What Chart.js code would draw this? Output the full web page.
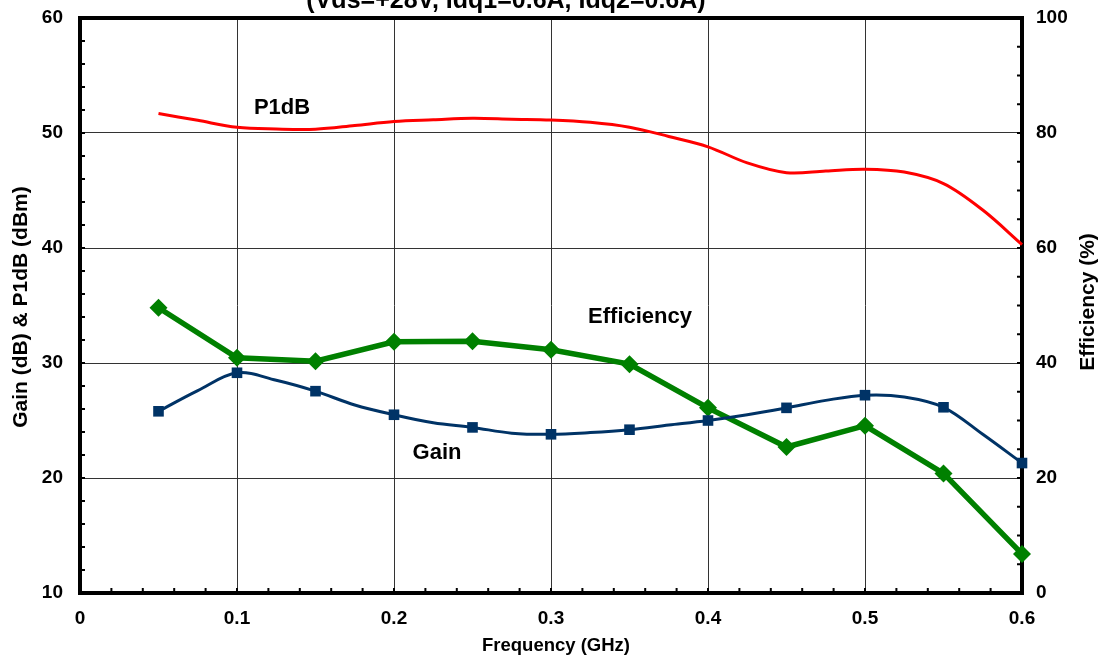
<!DOCTYPE html>
<html>
<head>
<meta charset="utf-8">
<script src="https://cdn.jsdelivr.net/npm/chart.js@4.4.1/dist/chart.umd.min.js"></script>
<style>
  html, body { margin: 0; padding: 0; background: #fff; }
  #wrap { width: 1105px; height: 658px; }
</style>
</head>
<body>
<div id="wrap"><canvas id="chart" width="1105" height="658"></canvas></div>
<script>
// frequency sweep, GHz
const gainFreq = [0.05, 0.075, 0.1, 0.125, 0.15, 0.175, 0.2, 0.225, 0.25, 0.275, 0.3, 0.325,
  0.35, 0.375, 0.4, 0.425, 0.45, 0.475, 0.5, 0.525, 0.55, 0.575, 0.6];
const gainDb = [25.8, 27.6, 29.15, 28.5, 27.55, 26.35, 25.5, 24.8, 24.4, 23.9, 23.8, 23.95,
  24.2, 24.6, 25.0, 25.5, 26.1, 26.75, 27.2, 27.05, 26.15, 23.8, 21.3];

const p1dbFreq = gainFreq;
const p1dbDbm = [51.7, 51.1, 50.5, 50.35, 50.33, 50.65, 51.0, 51.15, 51.28, 51.2, 51.13, 50.93,
  50.5, 49.7, 48.8, 47.4, 46.55, 46.7, 46.85, 46.6, 45.6, 43.3, 40.3];

const effFreq = [0.05, 0.1, 0.15, 0.2, 0.25, 0.3, 0.35, 0.4, 0.45, 0.5, 0.55, 0.6];
const effPct = [49.6, 40.9, 40.3, 43.7, 43.8, 42.3, 39.8, 32.2, 25.4, 29.1, 20.8, 6.8];

// gain markers only on the 50 MHz steps
const gainMarkerFreq = effFreq;

const xTickLabels = ["0", "0.1", "0.2", "0.3", "0.4", "0.5", "0.6"];

const chartTitle = "(Vds=+28V, Idq1=0.6A, Idq2=0.6A)";
const xTitle = "Frequency (GHz)";
const yLeftTitle = "Gain (dB) & P1dB (dBm)";
const yRightTitle = "Efficiency (%)";

// in-plot series labels (frequency, left-axis value)
const seriesLabels = [
  { text: "P1dB", f: 0.1287, v: 52.15 },
  { text: "Efficiency", f: 0.3567, v: 34.0 },
  { text: "Gain", f: 0.2274, v: 22.15 },
];

const FONT = "'Liberation Sans', Arial, sans-serif";

function toXY(xs, ys) {
  return xs.map((x, i) => ({ x: x, y: ys[i] }));
}

function noPad(s) {
  s.paddingTop = 0;
  s.paddingBottom = 0;
  s.paddingLeft = 0;
  s.paddingRight = 0;
}

const frame = {
  id: "frame",
  beforeDatasetsDraw(chart) {
    const { ctx, chartArea: a, scales } = chart;
    ctx.save();
    ctx.strokeStyle = "#000";
    ctx.lineWidth = 2;
    ctx.beginPath();
    // minor ticks, pointing inward
    for (let i = 1; i < 30; i++) {
      const px = scales.x.getPixelForValue(i * 0.02);
      ctx.moveTo(px, a.bottom);
      ctx.lineTo(px, a.bottom - 5);
    }
    for (let v = 12; v < 60; v += 2) {
      const py = scales.y.getPixelForValue(v);
      ctx.moveTo(a.left, py);
      ctx.lineTo(a.left + 5, py);
    }
    for (let v = 5; v < 100; v += 5) {
      const py = scales.y2.getPixelForValue(v);
      ctx.moveTo(a.right, py);
      ctx.lineTo(a.right - 5, py);
    }
    ctx.stroke();
    ctx.lineWidth = 4;
    ctx.strokeRect(a.left, a.top, a.right - a.left, a.bottom - a.top);
    ctx.restore();
  },
  afterDraw(chart) {
    const { ctx, scales } = chart;
    ctx.save();
    ctx.fillStyle = "#000";
    ctx.textAlign = "center";

    ctx.font = "bold 25px " + FONT;
    ctx.textBaseline = "alphabetic";
    ctx.fillText(chartTitle, 506, 8);

    ctx.textBaseline = "middle";
    ctx.font = "bold 18.5px " + FONT;
    ctx.fillText(xTitle, 556, 646);

    ctx.font = "bold 22px " + FONT;
    seriesLabels.forEach((l) => {
      ctx.fillText(l.text, scales.x.getPixelForValue(l.f), scales.y.getPixelForValue(l.v));
    });

    ctx.font = "bold 21px " + FONT;
    ctx.save();
    ctx.translate(21, 307);
    ctx.rotate(-Math.PI / 2);
    ctx.fillText(yLeftTitle, 0, 0);
    ctx.restore();

    ctx.save();
    ctx.translate(1088, 302);
    ctx.rotate(-Math.PI / 2);
    ctx.fillText(yRightTitle, 0, 0);
    ctx.restore();

    ctx.restore();
  },
};

const tickFont = { family: FONT, size: 19, weight: "bold" };

new Chart(document.getElementById("chart"), {
  type: "line",
  data: {
    datasets: [
      {
        label: "P1dB",
        data: toXY(p1dbFreq, p1dbDbm),
        yAxisID: "y",
        borderColor: "#ff0000",
        borderWidth: 3,
        pointRadius: 0,
        tension: 0.35,
        clip: false,
      },
      {
        label: "Gain",
        data: toXY(gainFreq, gainDb),
        yAxisID: "y",
        borderColor: "#003366",
        backgroundColor: "#003366",
        borderWidth: 3,
        pointStyle: "rect",
        pointRadius: gainFreq.map((f) => (gainMarkerFreq.some((m) => Math.abs(m - f) < 1e-6) ? 7.5 : 0)),
        pointBorderWidth: 0,
        tension: 0.35,
        clip: false,
      },
      {
        label: "Efficiency",
        data: toXY(effFreq, effPct),
        yAxisID: "y2",
        borderColor: "#008000",
        backgroundColor: "#008000",
        borderWidth: 5.5,
        pointStyle: "rectRot",
        pointRadius: 9,
        pointBorderWidth: 0,
        tension: 0,
        clip: false,
      },
    ],
  },
  options: {
    responsive: false,
    animation: false,
    events: [],
    layout: { padding: { top: 18, left: 0, right: 0, bottom: 0 } },
    plugins: { legend: { display: false }, tooltip: { enabled: false } },
    scales: {
      x: {
        type: "linear",
        min: 0,
        max: 0.6,
        afterFit: (s) => { s.height = 65; noPad(s); },
        afterBuildTicks: (s) => { s.ticks = xTickLabels.map((t) => ({ value: Number(t) })); },
        ticks: {
          padding: 14,
          color: "#000",
          font: tickFont,
          maxRotation: 0,
          callback: (v, i) => xTickLabels[i],
        },
        grid: { color: "#333", lineWidth: 1, drawTicks: false },
        border: { display: false },
      },
      y: {
        position: "left",
        min: 10,
        max: 60,
        afterFit: (s) => { s.width = 80; noPad(s); },
        ticks: { stepSize: 10, padding: 17, color: "#000", font: tickFont },
        grid: { color: "#333", lineWidth: 1, drawTicks: false },
        border: { display: false },
      },
      y2: {
        position: "right",
        min: 0,
        max: 100,
        afterFit: (s) => { s.width = 83; noPad(s); },
        ticks: { stepSize: 20, padding: 14, color: "#000", font: tickFont },
        grid: { display: false, drawTicks: false },
        border: { display: false },
      },
    },
  },
  plugins: [frame],
});
</script>
</body>
</html>
